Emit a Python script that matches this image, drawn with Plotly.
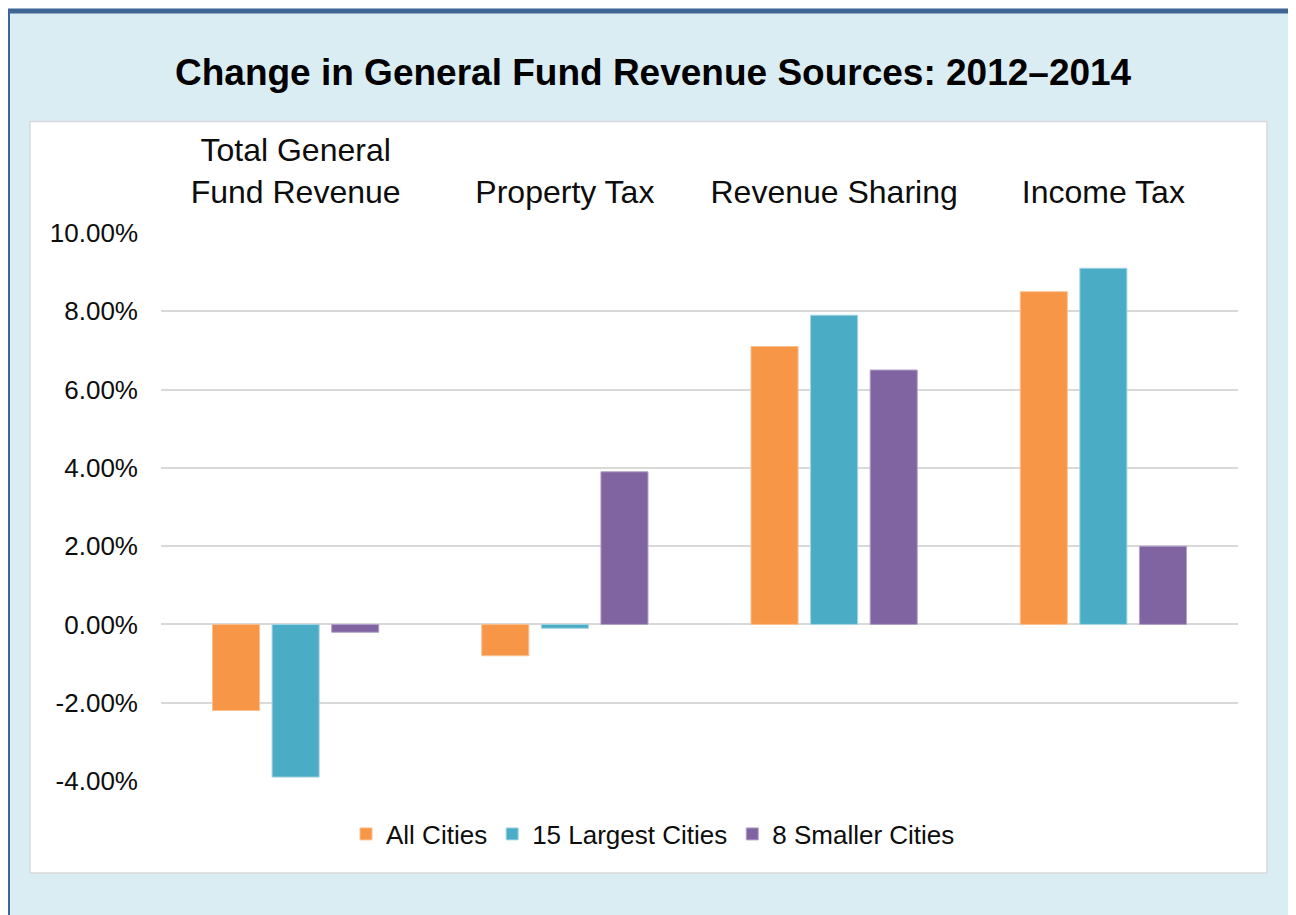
import plotly.graph_objects as go

categories = ["Total General<br>Fund Revenue", "Property Tax", "Revenue Sharing", "Income Tax"]
all_cities = [-2.2, -0.8, 7.1, 8.5]
largest_15 = [-3.9, -0.1, 7.9, 9.1]
smaller_8 = [-0.2, 3.9, 6.5, 2.0]
y_ticks = [-4, -2, 0, 2, 4, 6, 8, 10]
y_tick_labels = ["-4.00%", "-2.00%", "0.00%", "2.00%", "4.00%", "6.00%", "8.00%", "10.00%"]

# page body adds an 8px margin; work in screen coordinates and subtract it
O = 8
W, H = 1296 - O, 915 - O
L, R, T, B = 161 - O, 1238 - O, 233 - O, 781 - O
PW, PH = R - L, B - T


def px(x):
    return (x - O - L) / PW


def py(y):
    return (B - (y - O)) / PH


FONT = "Liberation Sans, Arial, sans-serif"

fig = go.Figure()
series = [
    ("All Cities", all_cities, "#F79646", "#FAC090"),
    ("15 Largest Cities", largest_15, "#4BACC6", "#A5D5E2"),
    ("8 Smaller Cities", smaller_8, "#8064A2", "#B3A2C7"),
]
for name, vals, col, lc in series:
    fig.add_trace(go.Bar(x=categories, y=vals, name=name,
                         marker=dict(color=col, line=dict(color=lc, width=1))))

fig.update_layout(
    width=W, height=H,
    margin=dict(l=L, r=W - R, t=T, b=H - B, pad=0),
    paper_bgcolor="white",
    plot_bgcolor="rgba(0,0,0,0)",
    barmode="group",
    bargap=0.336,
    bargroupgap=0.21,
    font=dict(family=FONT, color="#0D0D0D"),
    showlegend=True,
    legend=dict(orientation="h", x=px(653), xanchor="center", y=py(834), yanchor="middle",
                font=dict(size=26, family=FONT, color="#0D0D0D"), bgcolor="rgba(0,0,0,0)",
                traceorder="normal"),
    xaxis=dict(side="top", showgrid=False, showline=False, zeroline=False, ticks="",
               tickfont=dict(size=32, family=FONT, color="#0D0D0D"), ticklabelstandoff=23),
    yaxis=dict(range=[-4, 10], tickvals=y_ticks, ticktext=y_tick_labels,
               showgrid=True, gridcolor="#D9D9D9", gridwidth=1.6,
               zeroline=True, zerolinecolor="#D9D9D9", zerolinewidth=1.6,
               showline=False, ticks="", ticklabelstandoff=22,
               tickfont=dict(size=26, family=FONT, color="#0D0D0D")),
    shapes=[
        dict(type="rect", xref="paper", yref="paper", layer="below",
             x0=px(7.5), x1=px(1294.5), y0=py(11), y1=py(960),
             fillcolor="#DAEDF3", line=dict(color="#3F6496", width=5)),
        dict(type="rect", xref="paper", yref="paper", layer="below",
             x0=px(30), x1=px(1267), y0=py(121.5), y1=py(873),
             fillcolor="white", line=dict(color="#D9D9D9", width=1.5)),
    ],
    annotations=[
        dict(text="<b>Change in General Fund Revenue Sources: 2012–2014</b>",
             xref="paper", yref="paper", x=px(653), y=py(72), xanchor="center", yanchor="middle",
             showarrow=False, font=dict(size=37, family=FONT, color="#000000")),
    ],
)

fig.write_html("out.html")
